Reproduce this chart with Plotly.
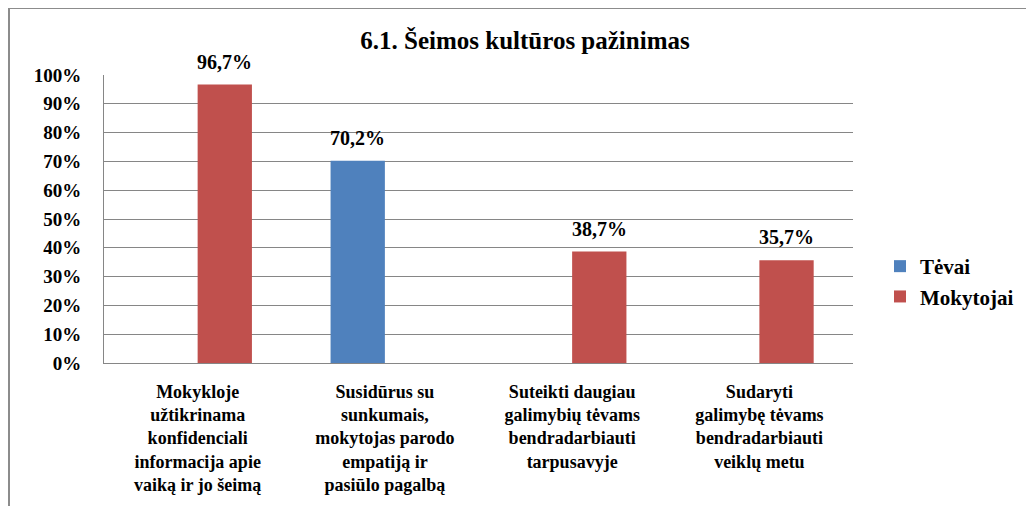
import plotly.graph_objects as go

categories = [
    "Mokykloje<br>užtikrinama<br>konfidenciali<br>informacija apie<br>vaiką ir jo šeimą",
    "Susidūrus su<br>sunkumais,<br>mokytojas parodo<br>empatiją ir<br>pasiūlo pagalbą",
    "Suteikti daugiau<br>galimybių tėvams<br>bendradarbiauti<br>tarpusavyje",
    "Sudaryti<br>galimybę tėvams<br>bendradarbiauti<br>veiklų metu",
]
tevai = [None, 70.2, None, None]
mokytojai = [96.7, None, 38.7, 35.7]
tick_vals = list(range(0, 101, 10))
tick_text = [f"{v}%" for v in tick_vals]

def fmt(v):
    return f"{v:.1f}%".replace(".", ",")

FONT = "'Liberation Serif', 'Times New Roman', 'DejaVu Serif', serif"
W, H = 1034, 506
L, R, T, B = 96, 189, 67, 151
pw, ph = W - L - R, H - T - B

def px_x(p):
    return (p - L) / pw

def px_y(p):
    return (H - B - p) / ph

fig = go.Figure()
series = [("Tėvai", tevai, "#4F81BD", -27), ("Mokytojai", mokytojai, "#C0504D", 27)]
annotations = []
for name, vals, col, dx in series:
    fig.add_trace(go.Bar(name=name, x=categories, y=vals, marker_color=col,
                         marker_line_width=0, hoverinfo="y+name"))
    for c, v in zip(categories, vals):
        if v is None:
            continue
        annotations.append(dict(x=c, y=v, xref="x", yref="y", text=fmt(v),
                                showarrow=False, xanchor="center", yanchor="bottom",
                                xshift=dx, yshift=10,
                                font=dict(family=FONT, size=20, color="black", weight="bold")))

fig.update_layout(
    width=W, height=H,
    margin=dict(l=L, r=R, t=T, b=B),
    paper_bgcolor="white", plot_bgcolor="white",
    barmode="group", bargap=0.42, bargroupgap=0,
    font=dict(family=FONT, color="black"),
    title=dict(text="6.1. Šeimos kultūros pažinimas", x=px_x(517), xref="paper",
               xanchor="center", y=1 - 32 / H, yanchor="middle",
               font=dict(family=FONT, size=25, color="black", weight="bold")),
    showlegend=True,
    legend=dict(x=px_x(872), y=px_y(238), xanchor="left", yanchor="top",
                font=dict(family=FONT, size=21, color="black", weight="bold"), itemwidth=30,
                bgcolor="rgba(0,0,0,0)"),
    xaxis=dict(showline=True, linecolor="#868686", linewidth=1, showgrid=False,
               tickfont=dict(family=FONT, size=18, color="black", weight="bold"), ticks="",
               ticklabelstandoff=12, automargin=False),
    yaxis=dict(range=[0, 100], tickvals=tick_vals, ticktext=tick_text,
               showline=True, linecolor="#868686", linewidth=1,
               showgrid=True, gridcolor="#868686", gridwidth=1, zeroline=False,
               tickfont=dict(family=FONT, size=19, color="black", weight="bold"), ticks="",
               ticklabelstandoff=18, automargin=False),
    annotations=annotations,
    shapes=[dict(type="rect", xref="paper", yref="paper",
                 x0=px_x(1), x1=px_x(1045), y0=px_y(515), y1=px_y(0),
                 line=dict(color="#8c8c8c", width=2), fillcolor="rgba(0,0,0,0)",
                 layer="below")],
)

fig.write_html("out.html")
